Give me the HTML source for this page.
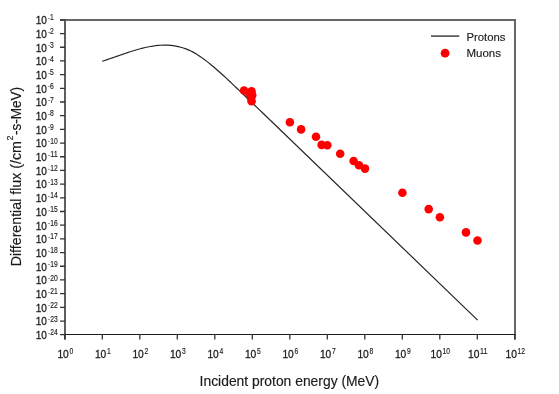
<!DOCTYPE html>
<html><head><meta charset="utf-8"><style>
html,body{margin:0;padding:0;background:#fff;width:559px;height:394px;overflow:hidden}
svg{display:block;will-change:transform}
text{font-family:"Liberation Sans", sans-serif;fill:#1a1a1a;stroke:#1a1a1a;stroke-width:0.15px}
.n{stroke-width:0.3px}
</style></head><body>
<svg width="559" height="394" viewBox="0 0 559 394">
<path d="M60 20 H515 V339.5" fill="none" stroke="#666" stroke-width="2"/>
<path d="M65 19 V339.5" fill="none" stroke="#5e5e5e" stroke-width="2"/>
<path d="M60 334.5 H516" fill="none" stroke="#1e1e1e" stroke-width="1.1"/>
<path d="M60 19.85 H65 M60 33.54 H65 M60 47.23 H65 M60 60.92 H65 M60 74.61 H65 M60 88.30 H65 M60 101.99 H65 M60 115.68 H65 M60 129.37 H65 M60 143.06 H65 M60 156.75 H65 M60 170.44 H65 M60 184.13 H65 M60 197.82 H65 M60 211.51 H65 M60 225.20 H65 M60 238.89 H65 M60 252.58 H65 M60 266.27 H65 M60 279.96 H65 M60 293.65 H65 M60 307.34 H65 M60 321.03 H65 M60 334.72 H65" stroke="#333" stroke-width="1.3"/>
<path d="M64.80 334 V339.5 M102.30 334 V339.5 M139.80 334 V339.5 M177.30 334 V339.5 M214.80 334 V339.5 M252.30 334 V339.5 M289.80 334 V339.5 M327.30 334 V339.5 M364.80 334 V339.5 M402.30 334 V339.5 M439.80 334 V339.5 M477.30 334 V339.5 M514.80 334 V339.5" stroke="#333" stroke-width="1.3"/>
<text x="35.7" y="24.15" class="n" font-size="11.8" textLength="11.2" lengthAdjust="spacingAndGlyphs">10</text>
<text x="48.1" y="19.95" font-size="7" textLength="2.1" lengthAdjust="spacingAndGlyphs">-</text>
<text x="49.9" y="20.45" font-size="8.6" textLength="3.75" lengthAdjust="spacingAndGlyphs">1</text>
<text x="35.7" y="37.84" class="n" font-size="11.8" textLength="11.2" lengthAdjust="spacingAndGlyphs">10</text>
<text x="48.1" y="33.64" font-size="7" textLength="2.1" lengthAdjust="spacingAndGlyphs">-</text>
<text x="49.9" y="34.14" font-size="8.6" textLength="3.75" lengthAdjust="spacingAndGlyphs">2</text>
<text x="35.7" y="51.53" class="n" font-size="11.8" textLength="11.2" lengthAdjust="spacingAndGlyphs">10</text>
<text x="48.1" y="47.33" font-size="7" textLength="2.1" lengthAdjust="spacingAndGlyphs">-</text>
<text x="49.9" y="47.83" font-size="8.6" textLength="3.75" lengthAdjust="spacingAndGlyphs">3</text>
<text x="35.7" y="65.22" class="n" font-size="11.8" textLength="11.2" lengthAdjust="spacingAndGlyphs">10</text>
<text x="48.1" y="61.02" font-size="7" textLength="2.1" lengthAdjust="spacingAndGlyphs">-</text>
<text x="49.9" y="61.52" font-size="8.6" textLength="3.75" lengthAdjust="spacingAndGlyphs">4</text>
<text x="35.7" y="78.91" class="n" font-size="11.8" textLength="11.2" lengthAdjust="spacingAndGlyphs">10</text>
<text x="48.1" y="74.71" font-size="7" textLength="2.1" lengthAdjust="spacingAndGlyphs">-</text>
<text x="49.9" y="75.21" font-size="8.6" textLength="3.75" lengthAdjust="spacingAndGlyphs">5</text>
<text x="35.7" y="92.60" class="n" font-size="11.8" textLength="11.2" lengthAdjust="spacingAndGlyphs">10</text>
<text x="48.1" y="88.40" font-size="7" textLength="2.1" lengthAdjust="spacingAndGlyphs">-</text>
<text x="49.9" y="88.90" font-size="8.6" textLength="3.75" lengthAdjust="spacingAndGlyphs">6</text>
<text x="35.7" y="106.29" class="n" font-size="11.8" textLength="11.2" lengthAdjust="spacingAndGlyphs">10</text>
<text x="48.1" y="102.09" font-size="7" textLength="2.1" lengthAdjust="spacingAndGlyphs">-</text>
<text x="49.9" y="102.59" font-size="8.6" textLength="3.75" lengthAdjust="spacingAndGlyphs">7</text>
<text x="35.7" y="119.98" class="n" font-size="11.8" textLength="11.2" lengthAdjust="spacingAndGlyphs">10</text>
<text x="48.1" y="115.78" font-size="7" textLength="2.1" lengthAdjust="spacingAndGlyphs">-</text>
<text x="49.9" y="116.28" font-size="8.6" textLength="3.75" lengthAdjust="spacingAndGlyphs">8</text>
<text x="35.7" y="133.67" class="n" font-size="11.8" textLength="11.2" lengthAdjust="spacingAndGlyphs">10</text>
<text x="48.1" y="129.47" font-size="7" textLength="2.1" lengthAdjust="spacingAndGlyphs">-</text>
<text x="49.9" y="129.97" font-size="8.6" textLength="3.75" lengthAdjust="spacingAndGlyphs">9</text>
<text x="35.7" y="147.36" class="n" font-size="11.8" textLength="11.2" lengthAdjust="spacingAndGlyphs">10</text>
<text x="48.1" y="143.16" font-size="7" textLength="2.1" lengthAdjust="spacingAndGlyphs">-</text>
<text x="50.2" y="143.66" font-size="8.6" textLength="7.50" lengthAdjust="spacingAndGlyphs">10</text>
<text x="35.7" y="161.05" class="n" font-size="11.8" textLength="11.2" lengthAdjust="spacingAndGlyphs">10</text>
<text x="48.1" y="156.85" font-size="7" textLength="2.1" lengthAdjust="spacingAndGlyphs">-</text>
<text x="50.2" y="157.35" font-size="8.6" textLength="7.50" lengthAdjust="spacingAndGlyphs">11</text>
<text x="35.7" y="174.74" class="n" font-size="11.8" textLength="11.2" lengthAdjust="spacingAndGlyphs">10</text>
<text x="48.1" y="170.54" font-size="7" textLength="2.1" lengthAdjust="spacingAndGlyphs">-</text>
<text x="50.2" y="171.04" font-size="8.6" textLength="7.50" lengthAdjust="spacingAndGlyphs">12</text>
<text x="35.7" y="188.43" class="n" font-size="11.8" textLength="11.2" lengthAdjust="spacingAndGlyphs">10</text>
<text x="48.1" y="184.23" font-size="7" textLength="2.1" lengthAdjust="spacingAndGlyphs">-</text>
<text x="50.2" y="184.73" font-size="8.6" textLength="7.50" lengthAdjust="spacingAndGlyphs">13</text>
<text x="35.7" y="202.12" class="n" font-size="11.8" textLength="11.2" lengthAdjust="spacingAndGlyphs">10</text>
<text x="48.1" y="197.92" font-size="7" textLength="2.1" lengthAdjust="spacingAndGlyphs">-</text>
<text x="50.2" y="198.42" font-size="8.6" textLength="7.50" lengthAdjust="spacingAndGlyphs">14</text>
<text x="35.7" y="215.81" class="n" font-size="11.8" textLength="11.2" lengthAdjust="spacingAndGlyphs">10</text>
<text x="48.1" y="211.61" font-size="7" textLength="2.1" lengthAdjust="spacingAndGlyphs">-</text>
<text x="50.2" y="212.11" font-size="8.6" textLength="7.50" lengthAdjust="spacingAndGlyphs">15</text>
<text x="35.7" y="229.50" class="n" font-size="11.8" textLength="11.2" lengthAdjust="spacingAndGlyphs">10</text>
<text x="48.1" y="225.30" font-size="7" textLength="2.1" lengthAdjust="spacingAndGlyphs">-</text>
<text x="50.2" y="225.80" font-size="8.6" textLength="7.50" lengthAdjust="spacingAndGlyphs">16</text>
<text x="35.7" y="243.19" class="n" font-size="11.8" textLength="11.2" lengthAdjust="spacingAndGlyphs">10</text>
<text x="48.1" y="238.99" font-size="7" textLength="2.1" lengthAdjust="spacingAndGlyphs">-</text>
<text x="50.2" y="239.49" font-size="8.6" textLength="7.50" lengthAdjust="spacingAndGlyphs">17</text>
<text x="35.7" y="256.88" class="n" font-size="11.8" textLength="11.2" lengthAdjust="spacingAndGlyphs">10</text>
<text x="48.1" y="252.68" font-size="7" textLength="2.1" lengthAdjust="spacingAndGlyphs">-</text>
<text x="50.2" y="253.18" font-size="8.6" textLength="7.50" lengthAdjust="spacingAndGlyphs">18</text>
<text x="35.7" y="270.57" class="n" font-size="11.8" textLength="11.2" lengthAdjust="spacingAndGlyphs">10</text>
<text x="48.1" y="266.37" font-size="7" textLength="2.1" lengthAdjust="spacingAndGlyphs">-</text>
<text x="50.2" y="266.87" font-size="8.6" textLength="7.50" lengthAdjust="spacingAndGlyphs">19</text>
<text x="35.7" y="284.26" class="n" font-size="11.8" textLength="11.2" lengthAdjust="spacingAndGlyphs">10</text>
<text x="48.1" y="280.06" font-size="7" textLength="2.1" lengthAdjust="spacingAndGlyphs">-</text>
<text x="50.2" y="280.56" font-size="8.6" textLength="7.50" lengthAdjust="spacingAndGlyphs">20</text>
<text x="35.7" y="297.95" class="n" font-size="11.8" textLength="11.2" lengthAdjust="spacingAndGlyphs">10</text>
<text x="48.1" y="293.75" font-size="7" textLength="2.1" lengthAdjust="spacingAndGlyphs">-</text>
<text x="50.2" y="294.25" font-size="8.6" textLength="7.50" lengthAdjust="spacingAndGlyphs">21</text>
<text x="35.7" y="311.64" class="n" font-size="11.8" textLength="11.2" lengthAdjust="spacingAndGlyphs">10</text>
<text x="48.1" y="307.44" font-size="7" textLength="2.1" lengthAdjust="spacingAndGlyphs">-</text>
<text x="50.2" y="307.94" font-size="8.6" textLength="7.50" lengthAdjust="spacingAndGlyphs">22</text>
<text x="35.7" y="325.33" class="n" font-size="11.8" textLength="11.2" lengthAdjust="spacingAndGlyphs">10</text>
<text x="48.1" y="321.13" font-size="7" textLength="2.1" lengthAdjust="spacingAndGlyphs">-</text>
<text x="50.2" y="321.63" font-size="8.6" textLength="7.50" lengthAdjust="spacingAndGlyphs">23</text>
<text x="35.7" y="339.02" class="n" font-size="11.8" textLength="11.2" lengthAdjust="spacingAndGlyphs">10</text>
<text x="48.1" y="334.82" font-size="7" textLength="2.1" lengthAdjust="spacingAndGlyphs">-</text>
<text x="50.2" y="335.32" font-size="8.6" textLength="7.50" lengthAdjust="spacingAndGlyphs">24</text>
<text x="57.42" y="357.7" class="n" font-size="11.8" textLength="11.4" lengthAdjust="spacingAndGlyphs">10</text>
<text x="69.42" y="353.6" font-size="8.6" textLength="3.75" lengthAdjust="spacingAndGlyphs">0</text>
<text x="94.92" y="357.7" class="n" font-size="11.8" textLength="11.4" lengthAdjust="spacingAndGlyphs">10</text>
<text x="106.92" y="353.6" font-size="8.6" textLength="3.75" lengthAdjust="spacingAndGlyphs">1</text>
<text x="132.43" y="357.7" class="n" font-size="11.8" textLength="11.4" lengthAdjust="spacingAndGlyphs">10</text>
<text x="144.43" y="353.6" font-size="8.6" textLength="3.75" lengthAdjust="spacingAndGlyphs">2</text>
<text x="169.93" y="357.7" class="n" font-size="11.8" textLength="11.4" lengthAdjust="spacingAndGlyphs">10</text>
<text x="181.93" y="353.6" font-size="8.6" textLength="3.75" lengthAdjust="spacingAndGlyphs">3</text>
<text x="207.43" y="357.7" class="n" font-size="11.8" textLength="11.4" lengthAdjust="spacingAndGlyphs">10</text>
<text x="219.43" y="353.6" font-size="8.6" textLength="3.75" lengthAdjust="spacingAndGlyphs">4</text>
<text x="244.93" y="357.7" class="n" font-size="11.8" textLength="11.4" lengthAdjust="spacingAndGlyphs">10</text>
<text x="256.93" y="353.6" font-size="8.6" textLength="3.75" lengthAdjust="spacingAndGlyphs">5</text>
<text x="282.43" y="357.7" class="n" font-size="11.8" textLength="11.4" lengthAdjust="spacingAndGlyphs">10</text>
<text x="294.43" y="353.6" font-size="8.6" textLength="3.75" lengthAdjust="spacingAndGlyphs">6</text>
<text x="319.93" y="357.7" class="n" font-size="11.8" textLength="11.4" lengthAdjust="spacingAndGlyphs">10</text>
<text x="331.93" y="353.6" font-size="8.6" textLength="3.75" lengthAdjust="spacingAndGlyphs">7</text>
<text x="357.43" y="357.7" class="n" font-size="11.8" textLength="11.4" lengthAdjust="spacingAndGlyphs">10</text>
<text x="369.43" y="353.6" font-size="8.6" textLength="3.75" lengthAdjust="spacingAndGlyphs">8</text>
<text x="394.93" y="357.7" class="n" font-size="11.8" textLength="11.4" lengthAdjust="spacingAndGlyphs">10</text>
<text x="406.93" y="353.6" font-size="8.6" textLength="3.75" lengthAdjust="spacingAndGlyphs">9</text>
<text x="430.55" y="357.7" class="n" font-size="11.8" textLength="11.4" lengthAdjust="spacingAndGlyphs">10</text>
<text x="442.55" y="353.6" font-size="8.6" textLength="7.50" lengthAdjust="spacingAndGlyphs">10</text>
<text x="468.05" y="357.7" class="n" font-size="11.8" textLength="11.4" lengthAdjust="spacingAndGlyphs">10</text>
<text x="480.05" y="353.6" font-size="8.6" textLength="7.50" lengthAdjust="spacingAndGlyphs">11</text>
<text x="505.55" y="357.7" class="n" font-size="11.8" textLength="11.4" lengthAdjust="spacingAndGlyphs">10</text>
<text x="517.55" y="353.6" font-size="8.6" textLength="7.50" lengthAdjust="spacingAndGlyphs">12</text>
<text x="199.6" y="386.1" font-size="14" textLength="179.6" lengthAdjust="spacingAndGlyphs">Incident proton energy (MeV)</text>
<g transform="translate(20.6 266) rotate(-90)"><text x="-0.3" y="0" font-size="14" textLength="125.2" lengthAdjust="spacingAndGlyphs">Differential flux (/cm</text><text x="125.6" y="-7.6" font-size="9.6" textLength="5" lengthAdjust="spacingAndGlyphs">2</text><text x="130.9" y="0" font-size="14" textLength="48" lengthAdjust="spacingAndGlyphs">-s-MeV)</text></g>
<path d="M102.15 60.88 L104.69 60.06 L107.22 59.22 L109.76 58.35 L112.30 57.48 L114.84 56.60 L117.37 55.71 L119.91 54.82 L122.45 53.94 L124.99 53.07 L127.52 52.22 L130.06 51.39 L132.60 50.58 L135.13 49.81 L137.67 49.07 L140.21 48.37 L142.75 47.72 L145.28 47.12 L147.82 46.57 L150.36 46.09 L152.90 45.67 L155.43 45.32 L157.97 45.05 L160.51 44.86 L163.05 44.75 L165.58 44.74 L168.12 44.82 L170.66 45.00 L173.19 45.29 L175.73 45.69 L178.27 46.20 L180.81 46.84 L183.34 47.60 L185.88 48.49 L188.42 49.51 L190.96 50.68 L193.49 51.99 L196.03 53.43 L198.57 55.02 L201.10 56.73 L203.64 58.56 L206.18 60.48 L208.72 62.48 L211.25 64.54 L213.79 66.67 L216.33 68.85 L218.87 71.08 L221.40 73.35 L223.94 75.66 L226.48 78.01 L229.02 80.38 L231.55 82.78 L234.09 85.19 L236.63 87.61 L239.16 90.03 L241.70 92.46 L244.24 94.89 L246.78 97.31 L249.31 99.74 L251.85 102.16 L254.39 104.59 L256.93 107.01 L259.46 109.43 L262.00 111.86 L477.6 319.7" fill="none" stroke="#262626" stroke-width="1.2" stroke-linejoin="round" transform="translate(0 0.4)"/>
<circle cx="244.05" cy="90.45" r="4.3" fill="#ff0000"/>
<circle cx="251.5" cy="91.2" r="4.3" fill="#ff0000"/>
<circle cx="252.2" cy="95.2" r="4.3" fill="#ff0000"/>
<circle cx="251.6" cy="101.3" r="4.3" fill="#ff0000"/>
<circle cx="249.2" cy="93.5" r="4.3" fill="#ff0000"/>
<circle cx="251.0" cy="98.0" r="4.3" fill="#ff0000"/>
<circle cx="289.9" cy="122.2" r="4.3" fill="#ff0000"/>
<circle cx="301.1" cy="129.4" r="4.3" fill="#ff0000"/>
<circle cx="316.0" cy="136.8" r="4.3" fill="#ff0000"/>
<circle cx="321.6" cy="144.9" r="4.3" fill="#ff0000"/>
<circle cx="327.3" cy="145.2" r="4.3" fill="#ff0000"/>
<circle cx="340.2" cy="153.7" r="4.3" fill="#ff0000"/>
<circle cx="353.6" cy="161.0" r="4.3" fill="#ff0000"/>
<circle cx="359.0" cy="165.2" r="4.3" fill="#ff0000"/>
<circle cx="365.0" cy="168.6" r="4.3" fill="#ff0000"/>
<circle cx="402.4" cy="192.8" r="4.3" fill="#ff0000"/>
<circle cx="428.7" cy="209.1" r="4.3" fill="#ff0000"/>
<circle cx="439.9" cy="217.2" r="4.3" fill="#ff0000"/>
<circle cx="466.0" cy="232.4" r="4.3" fill="#ff0000"/>
<circle cx="477.5" cy="240.5" r="4.3" fill="#ff0000"/>
<path d="M431 36.1 H459.3" stroke="#333" stroke-width="1.4"/>
<text x="466.5" y="40.8" font-size="11.7" textLength="39" lengthAdjust="spacingAndGlyphs">Protons</text>
<circle cx="445.1" cy="53.2" r="4.4" fill="#ff0000"/>
<text x="466.5" y="57.0" font-size="11.7" textLength="34.5" lengthAdjust="spacingAndGlyphs">Muons</text>
</svg>
</body></html>
